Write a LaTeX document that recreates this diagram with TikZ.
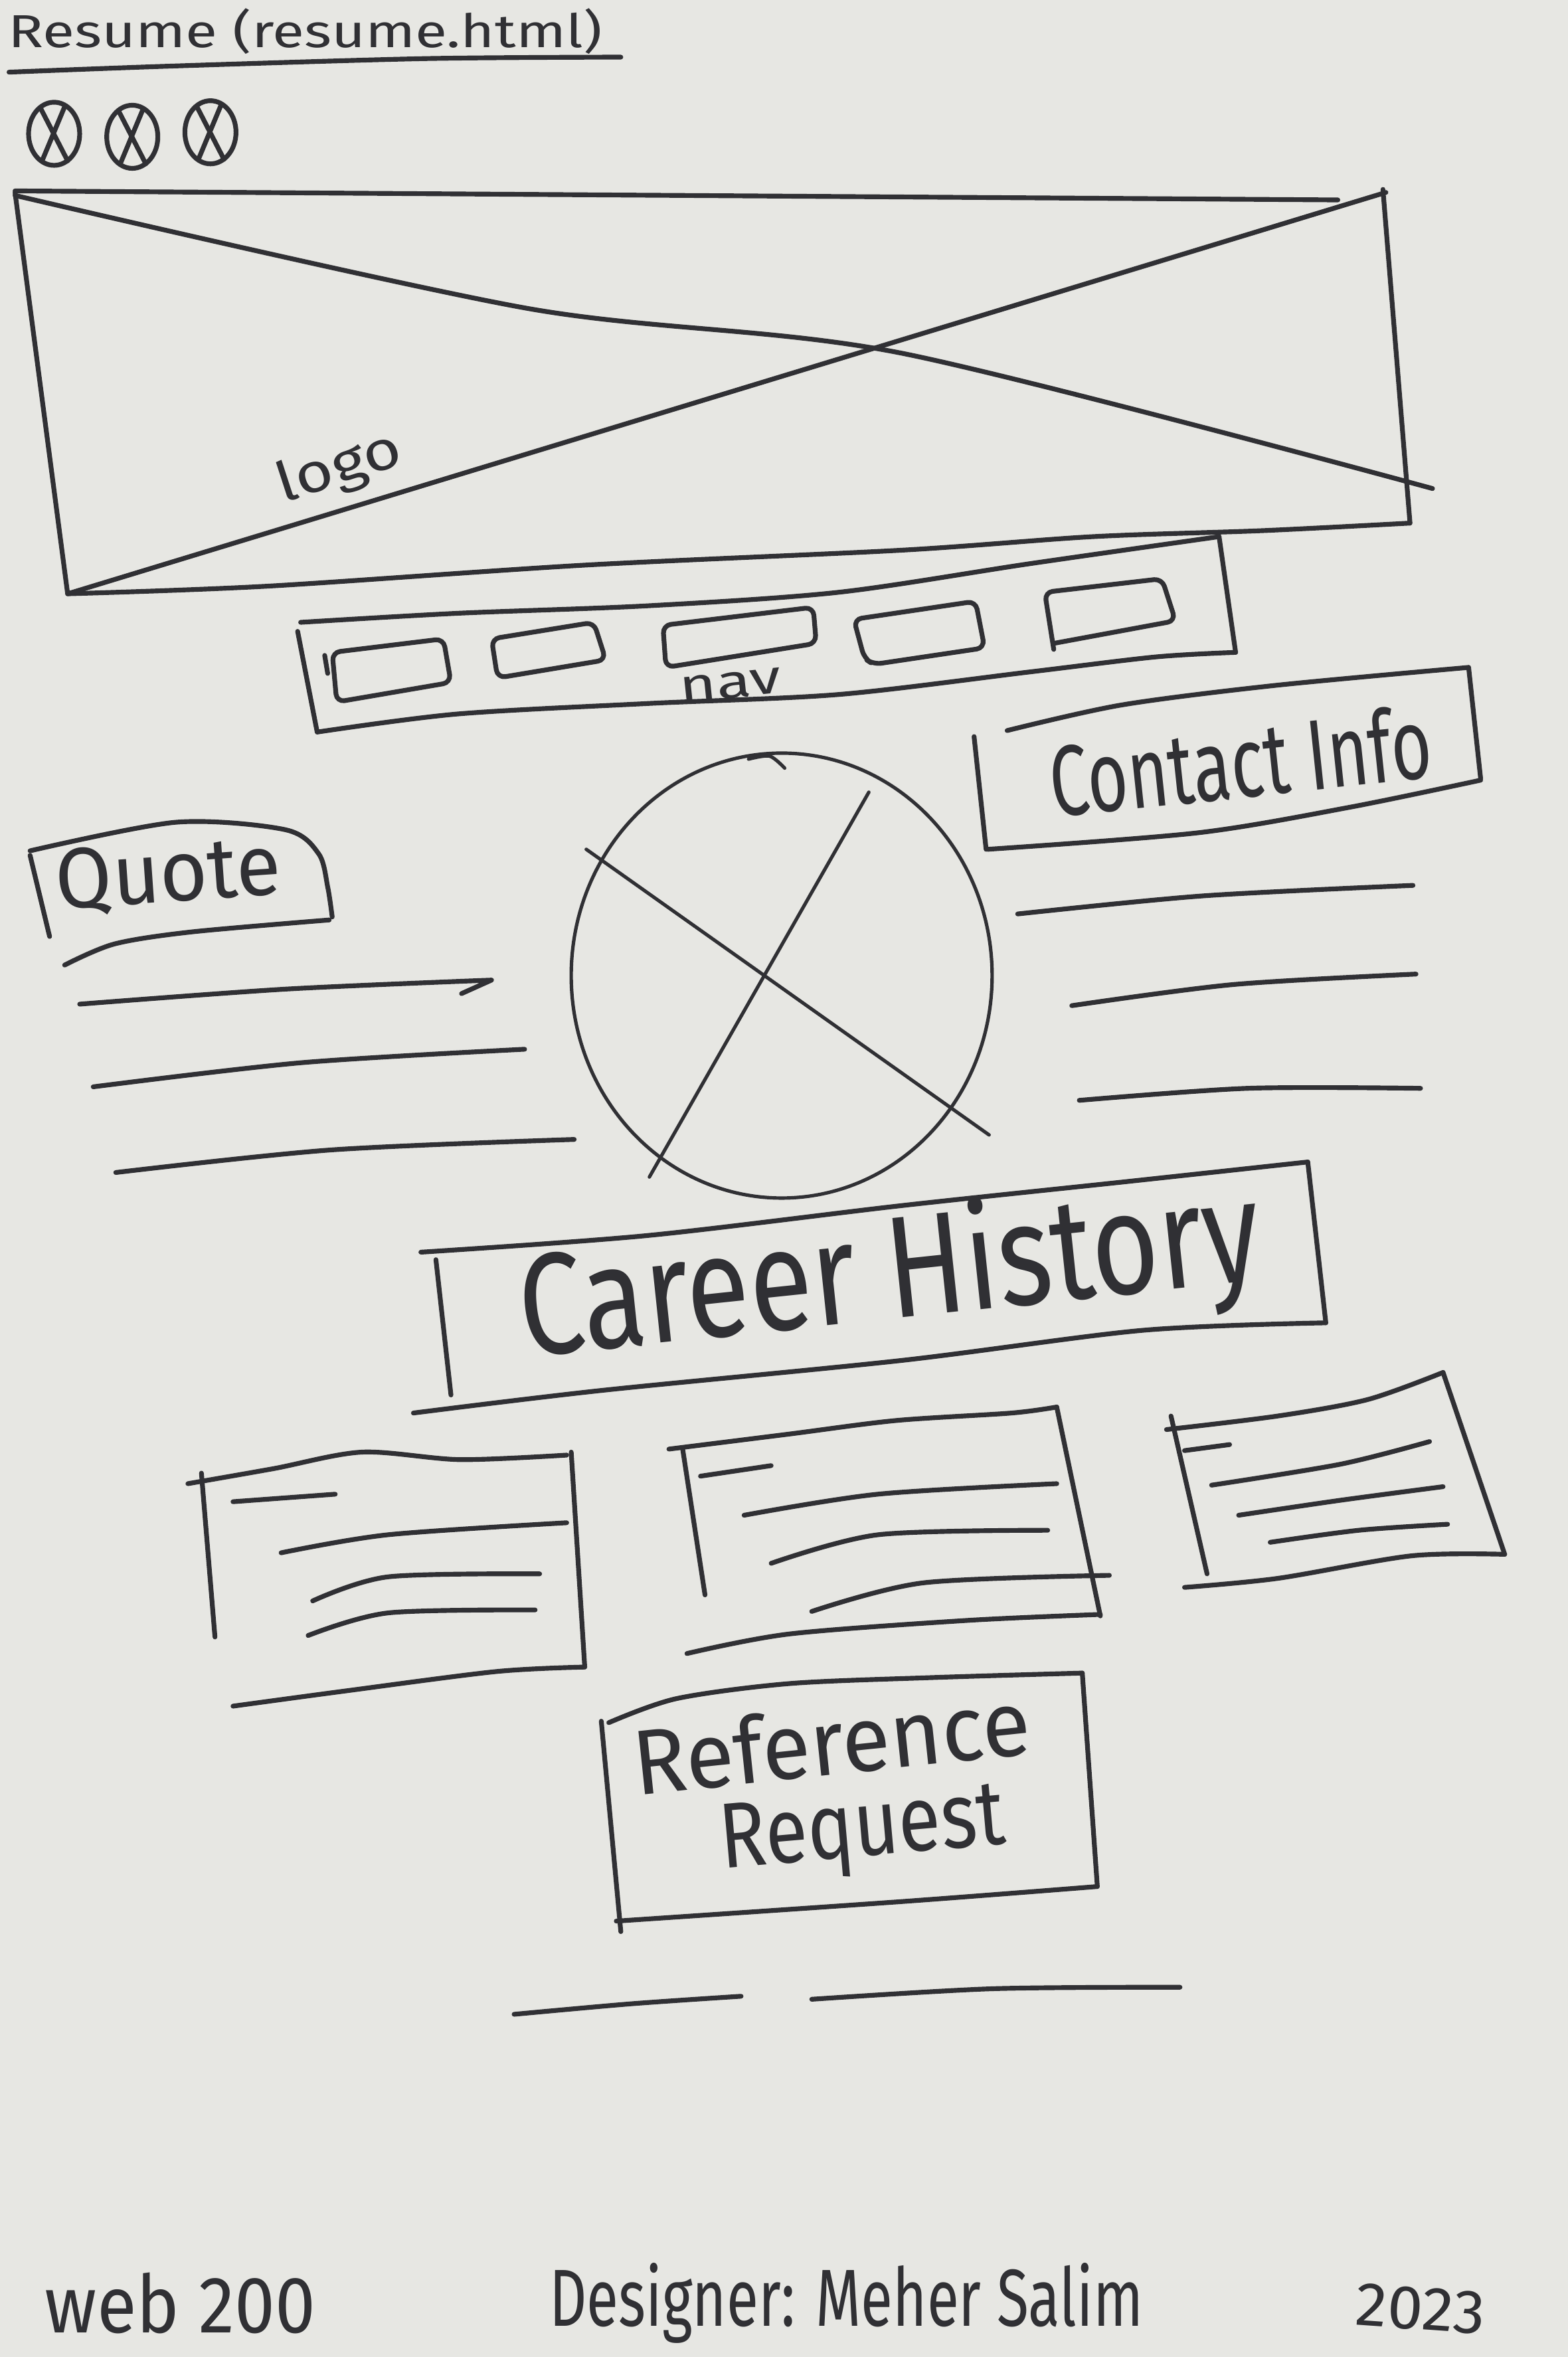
\documentclass[tikz,border=0pt]{standalone}
\usepackage{fontspec}
\setmainfont{Fira Sans}
\usepackage{graphicx}
\definecolor{paper}{RGB}{231,231,227}
\definecolor{ink}{RGB}{48,48,52}
\newcommand\hand[3]{\resizebox{#1}{#2}{#3}}
\begin{document}
\begin{tikzpicture}[x=0.02cm,y=-0.02cm,
  pen/.style={draw=ink,line width=1.8pt,line cap=round,line join=round},
  fine/.style={pen,line width=1.3pt},
  word/.style={inner sep=0pt,text=ink}]
\fill[paper] (0,0) rectangle (1043,1568);
\useasboundingbox (0,0) rectangle (1043,1568);

% page title
\node[word] (title) at (203,21) {\hand{7.9cm}{0.52cm}{Resume (resume.html)}};
\draw[pen] plot[smooth] coordinates {(6,48) (113,44) (282,39) (413,38)};

% window buttons
\foreach \cx/\cy [count=\i] in {36/89, 88/91, 140/88}{
  \draw[pen] (\cx,\cy) ellipse [x radius=17, y radius=21];
  \draw[pen] (\cx-9,\cy-17) -- (\cx+9,\cy+18);
  \draw[pen] (\cx+7,\cy-18) -- (\cx-8,\cy+18);
}

% logo banner
\draw[pen] (10,127) -- (890,133);
\draw[pen] (920,126) -- (938,348);
\draw[pen] (10,128) -- (45,395);
\draw[pen] plot[smooth] coordinates {(45,395) (177,390) (388,376) (600,366) (727,357) (840,353) (938,348)};
\draw[pen] plot[smooth] coordinates {(10,130) (350,205) (600,235) (953,325)};
\draw[pen] (45,395) -- (922,128);
\node[word,rotate=18] (logo) at (226,312) {\hand{1.7cm}{0.55cm}{logo}};

% navigation bar
\draw[pen] plot[smooth] coordinates {(200,414) (304,408) (431,403) (558,394) (685,375) (811,357)};
\draw[pen] (811,357) -- (822,434);
\draw[pen] plot[smooth] coordinates {(822,434) (769,437) (685,447) (558,462) (431,468) (304,475) (211,487)};
\draw[pen] (198,420) -- (211,487);
\draw[pen,rounded corners=3] (221,434) -- (295,425) -- (300,454) -- (224,467) -- cycle;
\draw[pen] (216,436) -- (218,448);
\draw[pen,rounded corners=3] (327,425) -- (395,414) -- (403,439) -- (331,451) -- cycle;
\draw[pen,rounded corners=3] (441,416) -- (541,404) -- (543,428) -- (443,444) -- cycle;
\draw[pen,rounded corners=3] (568,412) -- (649,400) -- (655,431) -- (581,442) -- (575,438) -- cycle;
\draw[pen,rounded corners=3] (701,432) -- (695,394) -- (773,385) -- (782,413) -- (701,428);
\node[word,rotate=6] (nav) at (486,456) {\hand{1.36cm}{0.34cm}{nav}};

% contact info
\draw[pen] (648,490) -- (656,565);
\draw[pen] plot[smooth] coordinates {(670,486) (746,469) (848,456) (977,444)};
\draw[pen] (977,444) -- (985,518);
\draw[pen] plot[smooth] coordinates {(985,519) (898,537) (797,554) (657,565)};
\node[word,rotate=6] (contact) at (825,506) {\hand{5.1cm}{1.0cm}{Contact Info}};
\draw[pen] plot[smooth] coordinates {(677,608) (800,596) (940,589)};
\draw[pen] plot[smooth] coordinates {(713,669) (820,655) (942,648)};
\draw[pen] plot[smooth] coordinates {(718,732) (830,724) (945,724)};

% profile photo
\draw[fine] (520,649) ellipse [x radius=140, y radius=148];
\draw[fine] plot[smooth] coordinates {(498,505) (512,503) (522,511)};
\draw[fine] (390,565) -- (658,755);
\draw[fine] (578,527) -- (432,783);

% quote
\draw[pen] (20,569) -- (33,623);
\draw[pen] plot[smooth] coordinates {(20,566) (117,547) (190,552) (212,568) (218,590) (221,610)};
\draw[pen] plot[smooth] coordinates {(219,612) (127,620) (76,628) (43,642)};
\node[word,rotate=4] (quote) at (112,583) {\hand{3.0cm}{0.8cm}{Quote}};
\draw[pen] plot[smooth] coordinates {(53,668) (190,658) (327,652)} -- (307,661);
\draw[pen] plot[smooth] coordinates {(62,723) (200,707) (349,698)};
\draw[pen] plot[smooth] coordinates {(77,780) (220,765) (382,758)};

% career history heading
\draw[pen] plot[smooth] coordinates {(280,833) (430,822) (600,802) (750,786) (870,773)};
\draw[pen] (870,773) -- (882,880);
\draw[pen] plot[smooth] coordinates {(882,880) (760,885) (600,905) (400,925) (275,940)};
\draw[pen] (290,838) -- (300,928);
\node[word,rotate=6] (career) at (592,850) {\hand{9.9cm}{1.5cm}{Career History}};

% job cards
\draw[pen] (134,980) -- (143,1089);
\draw[pen] plot[smooth] coordinates {(125,987) (182,977) (241,966) (306,971) (377,968)};
\draw[pen] (380,966) -- (389,1109);
\draw[pen] plot[smooth] coordinates {(389,1109) (330,1112) (229,1125) (155,1135)};
\draw[pen] (155,999) -- (223,994);
\draw[pen] plot[smooth] coordinates {(187,1033) (258,1021) (377,1013)};
\draw[pen] plot[smooth] coordinates {(208,1065) (258,1049) (359,1047)};
\draw[pen] plot[smooth] coordinates {(205,1088) (258,1073) (356,1071)};

\draw[pen] (454,963) -- (469,1061);
\draw[pen] plot[smooth] coordinates {(445,964) (525,954) (596,945) (673,940) (703,936)};
\draw[pen] (703,936) -- (732,1075);
\draw[pen] plot[smooth] coordinates {(732,1074) (643,1078) (525,1087) (457,1100)};
\draw[pen] (466,982) -- (513,975);
\draw[pen] plot[smooth] coordinates {(495,1008) (584,994) (703,987)};
\draw[pen] plot[smooth] coordinates {(513,1040) (584,1021) (697,1018)};
\draw[pen] plot[smooth] coordinates {(540,1072) (614,1053) (738,1048)};

\draw[pen] (779,942) -- (803,1047);
\draw[pen] plot[smooth] coordinates {(776,951) (850,942) (910,931) (960,913)};
\draw[pen] (960,913) -- (1001,1034);
\draw[pen] plot[smooth] coordinates {(1001,1034) (939,1035) (850,1050) (788,1056)};
\draw[pen] (788,965) -- (818,961);
\draw[pen] plot[smooth] coordinates {(806,988) (892,974) (951,959)};
\draw[pen] plot[smooth] coordinates {(824,1008) (892,998) (960,989)};
\draw[pen] plot[smooth] coordinates {(845,1026) (904,1018) (963,1014)};

% reference request button
\draw[pen] plot[smooth] coordinates {(405,1146) (450,1130) (525,1120) (620,1116) (720,1113)};
\draw[pen] (720,1113) -- (730,1255);
\draw[pen] plot[smooth] coordinates {(730,1255) (600,1265) (410,1278)};
\draw[pen] (400,1145) -- (413,1285);
\node[word,rotate=6] (reference) at (553,1158) {\hand{5.3cm}{0.92cm}{Reference}};
\node[word,rotate=5] (request) at (574,1220) {\hand{3.8cm}{0.85cm}{Request}};

% footer rules
\draw[pen] plot[smooth] coordinates {(342,1340) (420,1333) (493,1328)};
\draw[pen] plot[smooth] coordinates {(540,1330) (660,1323) (785,1322)};

% footer text
\node[word] (course) at (120,1532) {\hand{3.6cm}{0.8cm}{web 200}};
\node[word] (designer) at (563,1532) {\hand{7.9cm}{0.84cm}{Designer: Meher Salim}};
\node[word,rotate=-4] (year) at (945,1536) {\hand{1.72cm}{0.56cm}{2023}};
\end{tikzpicture}
\end{document}
